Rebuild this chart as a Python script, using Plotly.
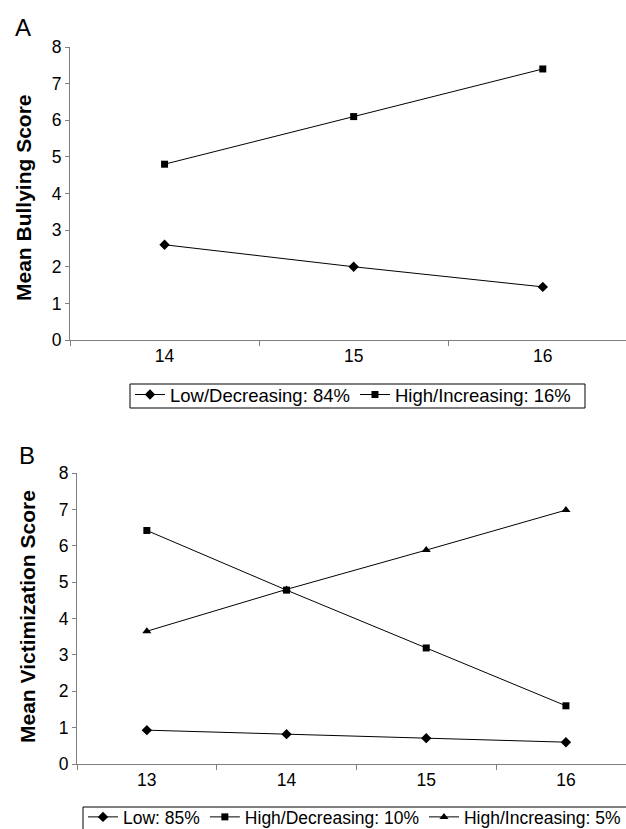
import plotly.graph_objects as go

W, H = 626, 829

# Panel A data
ages_a = ["14", "15", "16"]
bully_low = [2.6, 2.0, 1.45]
bully_high = [4.8, 6.1, 7.4]
names_a = ["Low/Decreasing: 84%", "High/Increasing: 16%"]

# Panel B data
ages_b = ["13", "14", "15", "16"]
vict_low = [0.93, 0.82, 0.71, 0.60]
vict_high_dec = [6.42, 4.78, 3.19, 1.60]
vict_high_inc = [3.65, 4.80, 5.88, 6.98]
names_b = ["Low: 85%", "High/Decreasing: 10%", "High/Increasing: 5%"]

yticks = [0, 1, 2, 3, 4, 5, 6, 7, 8]

FONT = "Liberation Sans, Arial, sans-serif"
line = dict(color="black", width=1)

fig = go.Figure()
fig.add_trace(go.Scatter(x=ages_a, y=bully_low, name=names_a[0], mode="lines+markers",
                         line=line, marker=dict(symbol="diamond", size=8, color="black"),
                         xaxis="x", yaxis="y", legend="legend"))
fig.add_trace(go.Scatter(x=ages_a, y=bully_high, name=names_a[1], mode="lines+markers",
                         line=line, marker=dict(symbol="square", size=7, color="black"),
                         xaxis="x", yaxis="y", legend="legend"))
fig.add_trace(go.Scatter(x=ages_b, y=vict_low, name=names_b[0], mode="lines+markers",
                         line=line, marker=dict(symbol="diamond", size=8, color="black"),
                         xaxis="x2", yaxis="y2", legend="legend2"))
fig.add_trace(go.Scatter(x=ages_b, y=vict_high_dec, name=names_b[1], mode="lines+markers",
                         line=line, marker=dict(symbol="square", size=7, color="black"),
                         xaxis="x2", yaxis="y2", legend="legend2"))
fig.add_trace(go.Scatter(x=ages_b, y=vict_high_inc, name=names_b[2], mode="lines+markers",
                         line=line, marker=dict(symbol="triangle-up", size=8, color="black"),
                         xaxis="x2", yaxis="y2", legend="legend2"))

axcol = "#7f7f7f"
xcommon = dict(type="category", showgrid=False, zeroline=False, showline=True, linecolor=axcol,
               linewidth=1.2, ticks="outside", tickson="boundaries", ticklen=5, tickcolor=axcol,
               tickfont=dict(size=17.5, color="black", family=FONT))
ycommon = dict(range=[0, 8], tickvals=yticks, showgrid=False, zeroline=False, showline=True,
               linecolor=axcol, linewidth=1.2, ticks="outside", ticklen=4, tickcolor=axcol,
               tickfont=dict(size=17.5, color="black", family=FONT))


def px_x(v):
    return v / W


def px_y(v):
    return 1 - v / H


fig.update_layout(
    width=W, height=H,
    margin=dict(l=0, r=0, t=0, b=0, autoexpand=False),
    paper_bgcolor="white", plot_bgcolor="white",
    font=dict(family=FONT, color="black"),
    xaxis=dict(xcommon, domain=[px_x(70), 1], range=[-0.5, 2.44], anchor="y"),
    yaxis=dict(ycommon, domain=[px_y(340), px_y(47)], anchor="x"),
    xaxis2=dict(xcommon, domain=[px_x(77), 1], range=[-0.5, 3.43], anchor="y2"),
    yaxis2=dict(ycommon, domain=[px_y(764), px_y(473)], anchor="x2"),
    legend=dict(orientation="h", x=px_x(130), y=px_y(376), xanchor="left", yanchor="top",
                borderwidth=0, font=dict(size=18.5, family=FONT, color="black"),
                itemwidth=30, tracegroupgap=0, bgcolor="rgba(0,0,0,0)"),
    legend2=dict(orientation="h", x=px_x(83), y=px_y(799), xanchor="left", yanchor="top",
                 borderwidth=0, font=dict(size=17.5, family=FONT, color="black"),
                 itemwidth=30, tracegroupgap=0, bgcolor="rgba(0,0,0,0)"),
    shapes=[
        dict(type="rect", xref="paper", yref="paper", x0=px_x(130), x1=px_x(585),
             y0=px_y(408), y1=px_y(384), line=dict(color="black", width=1)),
        dict(type="rect", xref="paper", yref="paper", x0=px_x(83), x1=px_x(660),
             y0=px_y(840), y1=px_y(807), line=dict(color="black", width=1)),
    ],
    annotations=[
        dict(text="A", x=px_x(13), y=px_y(12), xref="paper", yref="paper", xanchor="left", yanchor="top",
             showarrow=False, font=dict(size=24, family=FONT)),
        dict(text="B", x=px_x(17), y=px_y(440), xref="paper", yref="paper", xanchor="left", yanchor="top",
             showarrow=False, font=dict(size=24, family=FONT)),
        dict(text="<b>Mean Bullying Score</b>", textangle=-90, x=px_x(24), y=px_y(198),
             xref="paper", yref="paper", xanchor="center", yanchor="middle",
             showarrow=False, font=dict(size=21, family=FONT)),
        dict(text="<b>Mean Victimization Score</b>", textangle=-90, x=px_x(27), y=px_y(617),
             xref="paper", yref="paper", xanchor="center", yanchor="middle",
             showarrow=False, font=dict(size=21, family=FONT)),
    ],
)

fig.write_html("out.html", config={"displayModeBar": False},
               post_script="document.body.style.margin='0px';")
